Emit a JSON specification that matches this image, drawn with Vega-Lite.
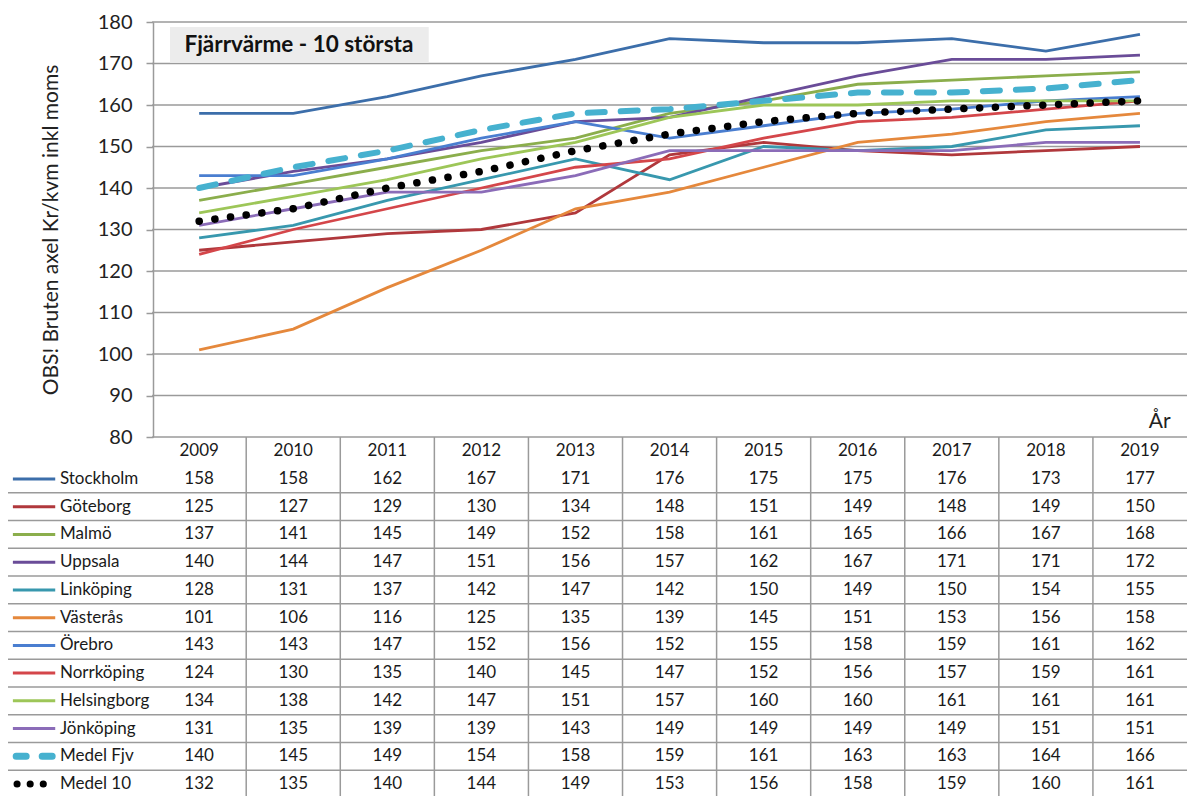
{
  "$schema": "https://vega.github.io/schema/vega-lite/v6.json",
  "width": 1187,
  "height": 796,
  "autosize": "none",
  "padding": 0,
  "background": "white",
  "config": {"view": {"stroke": null}, "font": "Lato", "text": {"font": "Lato"}},
  "datasets": {
    "d": [
      {"s":"Stockholm","y":2009,"v":158},{"s":"Stockholm","y":2010,"v":158},{"s":"Stockholm","y":2011,"v":162},{"s":"Stockholm","y":2012,"v":167},{"s":"Stockholm","y":2013,"v":171},{"s":"Stockholm","y":2014,"v":176},{"s":"Stockholm","y":2015,"v":175},{"s":"Stockholm","y":2016,"v":175},{"s":"Stockholm","y":2017,"v":176},{"s":"Stockholm","y":2018,"v":173},{"s":"Stockholm","y":2019,"v":177},
      {"s":"Göteborg","y":2009,"v":125},{"s":"Göteborg","y":2010,"v":127},{"s":"Göteborg","y":2011,"v":129},{"s":"Göteborg","y":2012,"v":130},{"s":"Göteborg","y":2013,"v":134},{"s":"Göteborg","y":2014,"v":148},{"s":"Göteborg","y":2015,"v":151},{"s":"Göteborg","y":2016,"v":149},{"s":"Göteborg","y":2017,"v":148},{"s":"Göteborg","y":2018,"v":149},{"s":"Göteborg","y":2019,"v":150},
      {"s":"Malmö","y":2009,"v":137},{"s":"Malmö","y":2010,"v":141},{"s":"Malmö","y":2011,"v":145},{"s":"Malmö","y":2012,"v":149},{"s":"Malmö","y":2013,"v":152},{"s":"Malmö","y":2014,"v":158},{"s":"Malmö","y":2015,"v":161},{"s":"Malmö","y":2016,"v":165},{"s":"Malmö","y":2017,"v":166},{"s":"Malmö","y":2018,"v":167},{"s":"Malmö","y":2019,"v":168},
      {"s":"Uppsala","y":2009,"v":140},{"s":"Uppsala","y":2010,"v":144},{"s":"Uppsala","y":2011,"v":147},{"s":"Uppsala","y":2012,"v":151},{"s":"Uppsala","y":2013,"v":156},{"s":"Uppsala","y":2014,"v":157},{"s":"Uppsala","y":2015,"v":162},{"s":"Uppsala","y":2016,"v":167},{"s":"Uppsala","y":2017,"v":171},{"s":"Uppsala","y":2018,"v":171},{"s":"Uppsala","y":2019,"v":172},
      {"s":"Linköping","y":2009,"v":128},{"s":"Linköping","y":2010,"v":131},{"s":"Linköping","y":2011,"v":137},{"s":"Linköping","y":2012,"v":142},{"s":"Linköping","y":2013,"v":147},{"s":"Linköping","y":2014,"v":142},{"s":"Linköping","y":2015,"v":150},{"s":"Linköping","y":2016,"v":149},{"s":"Linköping","y":2017,"v":150},{"s":"Linköping","y":2018,"v":154},{"s":"Linköping","y":2019,"v":155},
      {"s":"Västerås","y":2009,"v":101},{"s":"Västerås","y":2010,"v":106},{"s":"Västerås","y":2011,"v":116},{"s":"Västerås","y":2012,"v":125},{"s":"Västerås","y":2013,"v":135},{"s":"Västerås","y":2014,"v":139},{"s":"Västerås","y":2015,"v":145},{"s":"Västerås","y":2016,"v":151},{"s":"Västerås","y":2017,"v":153},{"s":"Västerås","y":2018,"v":156},{"s":"Västerås","y":2019,"v":158},
      {"s":"Örebro","y":2009,"v":143},{"s":"Örebro","y":2010,"v":143},{"s":"Örebro","y":2011,"v":147},{"s":"Örebro","y":2012,"v":152},{"s":"Örebro","y":2013,"v":156},{"s":"Örebro","y":2014,"v":152},{"s":"Örebro","y":2015,"v":155},{"s":"Örebro","y":2016,"v":158},{"s":"Örebro","y":2017,"v":159},{"s":"Örebro","y":2018,"v":161},{"s":"Örebro","y":2019,"v":162},
      {"s":"Norrköping","y":2009,"v":124},{"s":"Norrköping","y":2010,"v":130},{"s":"Norrköping","y":2011,"v":135},{"s":"Norrköping","y":2012,"v":140},{"s":"Norrköping","y":2013,"v":145},{"s":"Norrköping","y":2014,"v":147},{"s":"Norrköping","y":2015,"v":152},{"s":"Norrköping","y":2016,"v":156},{"s":"Norrköping","y":2017,"v":157},{"s":"Norrköping","y":2018,"v":159},{"s":"Norrköping","y":2019,"v":161},
      {"s":"Helsingborg","y":2009,"v":134},{"s":"Helsingborg","y":2010,"v":138},{"s":"Helsingborg","y":2011,"v":142},{"s":"Helsingborg","y":2012,"v":147},{"s":"Helsingborg","y":2013,"v":151},{"s":"Helsingborg","y":2014,"v":157},{"s":"Helsingborg","y":2015,"v":160},{"s":"Helsingborg","y":2016,"v":160},{"s":"Helsingborg","y":2017,"v":161},{"s":"Helsingborg","y":2018,"v":161},{"s":"Helsingborg","y":2019,"v":161},
      {"s":"Jönköping","y":2009,"v":131},{"s":"Jönköping","y":2010,"v":135},{"s":"Jönköping","y":2011,"v":139},{"s":"Jönköping","y":2012,"v":139},{"s":"Jönköping","y":2013,"v":143},{"s":"Jönköping","y":2014,"v":149},{"s":"Jönköping","y":2015,"v":149},{"s":"Jönköping","y":2016,"v":149},{"s":"Jönköping","y":2017,"v":149},{"s":"Jönköping","y":2018,"v":151},{"s":"Jönköping","y":2019,"v":151},
      {"s":"Medel Fjv","y":2009,"v":140},{"s":"Medel Fjv","y":2010,"v":145},{"s":"Medel Fjv","y":2011,"v":149},{"s":"Medel Fjv","y":2012,"v":154},{"s":"Medel Fjv","y":2013,"v":158},{"s":"Medel Fjv","y":2014,"v":159},{"s":"Medel Fjv","y":2015,"v":161},{"s":"Medel Fjv","y":2016,"v":163},{"s":"Medel Fjv","y":2017,"v":163},{"s":"Medel Fjv","y":2018,"v":164},{"s":"Medel Fjv","y":2019,"v":166},
      {"s":"Medel 10","y":2009,"v":132},{"s":"Medel 10","y":2010,"v":135},{"s":"Medel 10","y":2011,"v":140},{"s":"Medel 10","y":2012,"v":144},{"s":"Medel 10","y":2013,"v":149},{"s":"Medel 10","y":2014,"v":153},{"s":"Medel 10","y":2015,"v":156},{"s":"Medel 10","y":2016,"v":158},{"s":"Medel 10","y":2017,"v":159},{"s":"Medel 10","y":2018,"v":160},{"s":"Medel 10","y":2019,"v":161}
    ],
    "grid": [{"g":80},{"g":90},{"g":100},{"g":110},{"g":120},{"g":130},{"g":140},{"g":150},{"g":160},{"g":170},{"g":180}],
    "vlines": [{"b":2009.5},{"b":2010.5},{"b":2011.5},{"b":2012.5},{"b":2013.5},{"b":2014.5},{"b":2015.5},{"b":2016.5},{"b":2017.5},{"b":2018.5}]
  },
  "layer": [
    {
      "layer": [
        {
          "data": {"name": "grid"},
          "mark": {"type": "rule", "color": "#9a9a9a", "strokeWidth": 1.5},
          "encoding": {
            "x": {"datum": 2008.5, "type": "quantitative", "scale": {"domain": [2006.883, 2019.5], "nice": false, "zero": false}, "axis": null},
            "x2": {"datum": 2019.5},
            "y": {"field": "g", "type": "quantitative",
                  "scale": {"domain": [80, 180], "range": [437, 22], "nice": false, "zero": false},
                  "axis": {"values": [80,90,100,110,120,130,140,150,160,170,180], "offset": -153, "grid": false,
                           "labelFontSize": 20, "labelColor": "#222222", "labelPadding": 14, "tickColor": "#9a9a9a", "tickSize": 7, "tickWidth": 1.5,
                           "domainColor": "#9a9a9a", "domainWidth": 1.5,
                           "title": "OBS! Bruten axel Kr/kvm inkl moms", "titleFontSize": 21, "titleFontWeight": "normal", "titleColor": "#222222", "titlePadding": 36}}
          }
        },
        {
          "data": {"name": "vlines"},
          "mark": {"type": "rule", "color": "#9a9a9a", "strokeWidth": 1.5},
          "encoding": {
            "x": {"field": "b", "type": "quantitative"},
            "y": {"datum": 80, "type": "quantitative"},
            "y2": {"datum": -10}
          }
        },
        {
          "data": {"name": "d"},
          "transform": [{"filter": "datum.s !== 'Medel Fjv' && datum.s !== 'Medel 10'"}],
          "mark": {"type": "line", "strokeWidth": 2.8},
          "encoding": {
            "x": {"field": "y", "type": "quantitative"},
            "y": {"field": "v", "type": "quantitative"},
            "color": {"field": "s", "type": "nominal", "legend": null,
                      "scale": {"domain": ["Stockholm","Göteborg","Malmö","Uppsala","Linköping","Västerås","Örebro","Norrköping","Helsingborg","Jönköping","Medel Fjv","Medel 10"],
                                "range": ["#3C6EAA","#B0383C","#8BAE4C","#6A4C98","#3898AE","#E5883C","#4A7ED0","#D4464A","#9DC658","#8B6CB8","#46B1CF","#000000"]}},
            "detail": {"field": "s"}
          }
        },
        {
          "data": {"name": "d"},
          "transform": [{"filter": "datum.s === 'Medel Fjv'"}],
          "mark": {"type": "line", "strokeWidth": 6, "strokeDash": [17, 16], "strokeCap": "round", "color": "#46B1CF"},
          "encoding": {
            "x": {"field": "y", "type": "quantitative"},
            "y": {"field": "v", "type": "quantitative"}
          }
        },
        {
          "data": {"name": "d"},
          "transform": [{"filter": "datum.s === 'Medel 10'"}],
          "mark": {"type": "line", "strokeWidth": 7.5, "strokeDash": [0.1, 15.7], "strokeCap": "round", "color": "#000000"},
          "encoding": {
            "x": {"field": "y", "type": "quantitative"},
            "y": {"field": "v", "type": "quantitative"}
          }
        },
        {
          "data": {"values": [{}]},
          "mark": {"type": "rect", "color": "#ECECEC"},
          "encoding": {
            "x": {"datum": 2008.69, "type": "quantitative"},
            "x2": {"datum": 2011.44},
            "y": {"datum": 178.8, "type": "quantitative"},
            "y2": {"datum": 170.2}
          }
        },
        {
          "data": {"values": [{"t": "Fjärrvärme - 10 största"}]},
          "mark": {"type": "text", "fontSize": 22.5, "fontWeight": "bold", "color": "#111111", "align": "center", "baseline": "middle"},
          "encoding": {
            "x": {"datum": 2010.06, "type": "quantitative"},
            "y": {"datum": 174.4, "type": "quantitative"},
            "text": {"field": "t"}
          }
        },
        {
          "data": {"values": [{"t": "År"}]},
          "mark": {"type": "text", "fontSize": 21, "color": "#222222", "align": "center", "baseline": "middle"},
          "encoding": {
            "x": {"datum": 2019.21, "type": "quantitative"},
            "y": {"datum": 83.6, "type": "quantitative"},
            "text": {"field": "t"}
          }
        }
      ]
    },
    {
      "layer": [
        {
          "data": {"name": "d"},
          "transform": [{"filter": "datum.y === 2009 && datum.s !== 'Medel 10'"}],
          "mark": {"type": "rule", "color": "#9a9a9a", "strokeWidth": 1.5},
          "encoding": {
            "x": {"datum": 2006.968, "type": "quantitative"},
            "x2": {"datum": 2019.5},
            "y": {"field": "s", "type": "nominal", "bandPosition": 1,
                  "scale": {"type": "band", "domain": ["hdr","Stockholm","Göteborg","Malmö","Uppsala","Linköping","Västerås","Örebro","Norrköping","Helsingborg","Jönköping","Medel Fjv","Medel 10"], "range": [437.4, 797.9], "paddingInner": 0, "paddingOuter": 0},
                  "axis": null}
          }
        },
        {
          "data": {"name": "d"},
          "mark": {"type": "text", "fontSize": 17, "color": "#1a1a1a", "align": "center", "baseline": "middle"},
          "encoding": {
            "x": {"field": "y", "type": "quantitative"},
            "y": {"field": "s", "type": "nominal"},
            "text": {"field": "v", "type": "nominal"}
          }
        },
        {
          "data": {"name": "d"},
          "transform": [{"filter": "datum.s === 'Stockholm'"}],
          "mark": {"type": "text", "fontSize": 17, "color": "#1a1a1a", "align": "center", "baseline": "middle"},
          "encoding": {
            "x": {"field": "y", "type": "quantitative"},
            "y": {"datum": "hdr", "type": "nominal"},
            "text": {"field": "y", "type": "nominal"}
          }
        },
        {
          "data": {"name": "d"},
          "transform": [{"filter": "datum.y === 2009"}],
          "mark": {"type": "text", "fontSize": 17, "color": "#1a1a1a", "align": "left", "baseline": "middle"},
          "encoding": {
            "x": {"datum": 2007.52, "type": "quantitative"},
            "y": {"field": "s", "type": "nominal"},
            "text": {"field": "s", "type": "nominal"}
          }
        },
        {
          "data": {"name": "d"},
          "transform": [{"filter": "datum.y === 2009 && datum.s !== 'Medel Fjv' && datum.s !== 'Medel 10'"}],
          "mark": {"type": "rule", "strokeWidth": 3},
          "encoding": {
            "x": {"datum": 2007.02, "type": "quantitative"},
            "x2": {"datum": 2007.47},
            "y": {"field": "s", "type": "nominal"},
            "color": {"field": "s", "type": "nominal", "legend": null}
          }
        },
        {
          "data": {"name": "d"},
          "transform": [{"filter": "datum.y === 2009 && datum.s === 'Medel Fjv'"}],
          "mark": {"type": "rule", "strokeWidth": 7, "strokeDash": [10, 16], "strokeCap": "round", "color": "#46B1CF"},
          "encoding": {
            "x": {"datum": 2007.055, "type": "quantitative"},
            "x2": {"datum": 2007.47},
            "y": {"field": "s", "type": "nominal"}
          }
        },
        {
          "data": {"name": "d"},
          "transform": [{"filter": "datum.y === 2009 && datum.s === 'Medel 10'"}],
          "mark": {"type": "rule", "strokeWidth": 7, "strokeDash": [0.1, 13], "strokeCap": "round", "color": "#000000"},
          "encoding": {
            "x": {"datum": 2007.064, "type": "quantitative"},
            "x2": {"datum": 2007.36},
            "y": {"field": "s", "type": "nominal"}
          }
        }
      ]
    }
  ],
  "resolve": {"scale": {"y": "independent"}, "axis": {"y": "independent"}}
}
